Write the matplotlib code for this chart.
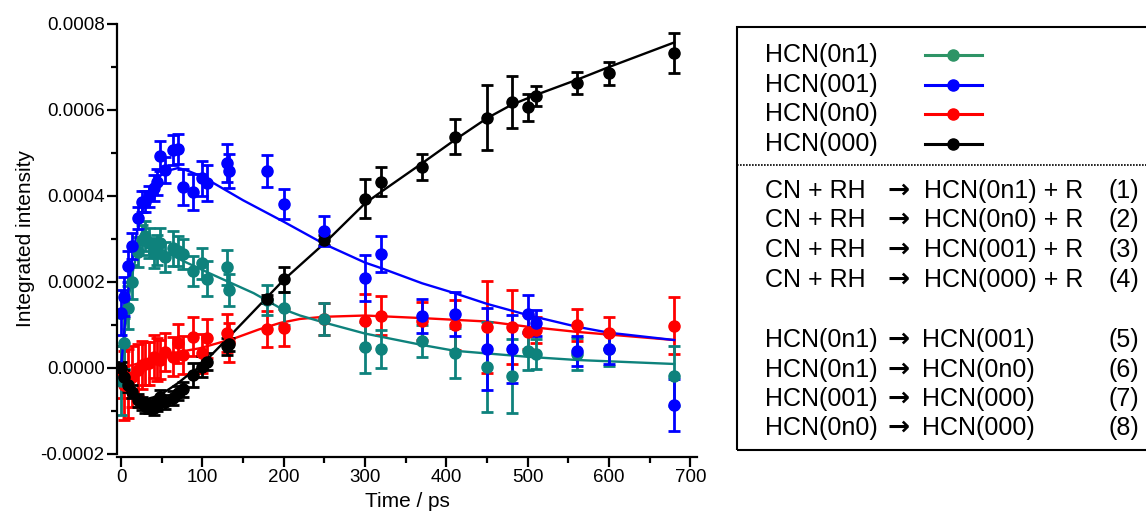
import matplotlib
matplotlib.use("Agg")
import matplotlib.pyplot as plt
from matplotlib import ticker
from matplotlib.lines import Line2D
from matplotlib.patches import Rectangle

plt.rcParams["font.family"] = ["Liberation Sans", "DejaVu Sans"]

# time points (ps)
t = [0, 4, 9, 14, 21, 26, 30, 34, 40, 44, 48, 54, 64, 70, 76, 88, 100, 106,
     130, 133, 180, 200, 250, 300, 320, 370, 410, 450, 480, 500, 510, 560, 600, 680]

# HCN(001) - blue
y_001 = [0.000129, 0.000166, 0.000236, 0.000283, 0.000349, 0.000387, 0.000387, 0.000399,
         0.000418, 0.000433, 0.000492, 0.000460, 0.000507, 0.000509, 0.000420, 0.000410,
         0.000441, 0.000430, 0.000477, 0.000458, 0.000458, 0.000381, 0.000319, 0.000209,
         0.000265, 0.000121, 0.000126, 0.0000435, 0.0000435, 0.000126, 0.000104, 0.000040,
         0.0000435, -0.000086]
e_001 = [5.3e-5, 4.5e-5, 3.5e-5, 3e-5, 2.5e-5, 2.5e-5, 2.5e-5, 2.5e-5,
         3e-5, 3e-5, 3.5e-5, 3e-5, 3.5e-5, 3.5e-5, 4.2e-5, 4.2e-5,
         4e-5, 4.2e-5, 4.5e-5, 4e-5, 3.7e-5, 3.5e-5, 3.5e-5, 5.3e-5,
         4.2e-5, 4e-5, 5.1e-5, 9.5e-5, 7.9e-5, 4.4e-5, 3e-5, 3.5e-5,
         3.5e-5, 6e-5]

# HCN(0n1) - teal
y_0n1 = [-0.000030, 0.000057, 0.000140, 0.000200, 0.000270, 0.000298, 0.000307, 0.000290,
         0.000267, 0.000275, 0.000290, 0.000259, 0.000278, 0.000271, 0.000265, 0.000226,
         0.000243, 0.000208, 0.000234, 0.000181, 0.000158, 0.000139, 0.000113, 0.000048,
         0.000044, 0.0000635, 0.000034, 0.000003, -0.0000186, 0.000040, 0.0000326, 0.0000326,
         0.0000435, -0.0000186]
e_0n1 = [8e-5, 6e-5, 5e-5, 4e-5, 3.5e-5, 3.5e-5, 3.5e-5, 3.5e-5,
         3.5e-5, 3.5e-5, 3.5e-5, 3.5e-5, 4e-5, 3.5e-5, 3.5e-5, 3.5e-5,
         3.5e-5, 4e-5, 4e-5, 3.8e-5, 3.5e-5, 3.8e-5, 3.7e-5, 6e-5,
         4.4e-5, 3.7e-5, 5.8e-5, 1.05e-4, 8.6e-5, 4.4e-5, 3.5e-5, 3.7e-5,
         4e-5, 7e-5]

# HCN(0n0) - red
y_0n0 = [-0.000010, -0.000040, -0.000036, -0.000020, -0.000005, 0.000007, 0.000010, 0.000011,
         0.000026, 0.000020, 0.000019, 0.000037, 0.000026, 0.000057, 0.000030, 0.000073,
         0.000034, 0.000069, 0.000081, 0.000060, 0.000090, 0.000094, 0.000113, 0.000110,
         0.000122, 0.000110, 0.000100, 0.000096, 0.000096, 0.000084, 0.000088, 0.000100,
         0.000082, 0.0000984]
e_0n0 = [6e-5, 8e-5, 8e-5, 7e-5, 6e-5, 5.5e-5, 5e-5, 5e-5,
         5e-5, 5e-5, 4.5e-5, 4.5e-5, 4.5e-5, 4.5e-5, 4.5e-5, 4.5e-5,
         4.5e-5, 4.5e-5, 4.5e-5, 4.5e-5, 4.2e-5, 4.2e-5, 3.7e-5, 6.3e-5,
         4.6e-5, 4.4e-5, 5.8e-5, 1.07e-4, 8.6e-5, 4e-5, 3e-5, 3.7e-5,
         3.7e-5, 6.7e-5]

# HCN(000) - black
y_000 = [0.0, -0.000020, -0.000040, -0.000055, -0.000075, -0.000082, -0.000089, -0.000090,
         -0.000094, -0.000085, -0.000067, -0.000079, -0.000070, -0.000059, -0.000050, -0.000016,
         0.000003, 0.000015, 0.000050, 0.000055, 0.000160, 0.000206, 0.000298, 0.000394,
         0.000433, 0.000468, 0.000538, 0.000582, 0.000618, 0.000606, 0.000633, 0.000662,
         0.000685, 0.000732]
e_000 = [1.5e-5, 1.5e-5, 1.5e-5, 1.5e-5, 1.5e-5, 1.5e-5, 1.5e-5, 1.5e-5,
         1.6e-5, 1.6e-5, 1.6e-5, 1.6e-5, 1.6e-5, 1.6e-5, 1.8e-5, 2.8e-5,
         2.5e-5, 2e-5, 2e-5, 1.5e-5, 1e-5, 2.9e-5, 1.2e-5, 4.5e-5,
         3.4e-5, 3e-5, 4.1e-5, 7.5e-5, 6e-5, 3.2e-5, 2.3e-5, 2.6e-5,
         2.6e-5, 4.7e-5]

# fitted curves
fit_t_001 = [0, 5, 10, 15, 20, 25, 30, 40, 50, 60, 70, 80, 100, 150, 200, 250, 300,
             320, 370, 410, 450, 500, 560, 600, 680]
fit_001 = [0.0, 0.00011, 0.00020, 0.00027, 0.00032, 0.00036, 0.00039, 0.00043, 0.00045,
           0.00046, 0.000465, 0.00046, 0.000445, 0.00039, 0.00034, 0.000288, 0.000245,
           0.000232, 0.000197, 0.000174, 0.000149, 0.000123, 0.000096, 0.000082, 0.000065]

fit_t_0n1 = [0, 5, 10, 15, 20, 27, 35, 50, 75, 109, 163, 196, 220, 249, 300, 370, 410,
             500, 560, 680]
fit_0n1 = [0.0, 0.00009, 0.00017, 0.00023, 0.00027, 0.00030, 0.00029, 0.000275, 0.00025,
           0.00022, 0.000174, 0.000139, 0.000122, 0.000106, 0.00008, 0.0000535, 0.00004,
           0.000026, 0.0000186, 0.0000093]

fit_t_0n0 = [0, 20, 50, 97, 138, 170, 196, 220, 249, 300, 370, 450, 500, 560, 680]
fit_0n0 = [0.0, 0.00001, 0.00003, 0.000046, 0.000068, 0.00009, 0.000105, 0.000114,
           0.000119, 0.000122, 0.000116, 0.000108, 0.000096, 0.000084, 0.000065]

fit_t_000 = [0, 5, 10, 20, 30, 40, 50, 60, 70, 80, 97, 130, 160, 200, 250, 300, 320,
             370, 410, 450, 480, 510, 560, 600, 680]
fit_000 = [0.0, -0.000035, -0.000055, -0.00007, -0.000073, -0.000068, -0.00006, -0.000048,
           -0.000035, -0.00002, 0.000003, 0.000067, 0.000126, 0.000205, 0.000290, 0.000383,
           0.00041, 0.000476, 0.00053, 0.000581, 0.000612, 0.000635, 0.00067, 0.0007, 0.000757]

teal = "#0e827c"
series = [
    (y_0n0, e_0n0, fit_t_0n0, fit_0n0, "#ff0000"),
    (y_0n1, e_0n1, fit_t_0n1, fit_0n1, teal),
    (y_000, e_000, fit_t_000, fit_000, "#000000"),
    (y_001, e_001, fit_t_001, fit_001, "#0000ff"),
]

fig = plt.figure(figsize=(11.46, 5.22), dpi=100)
ax = fig.add_axes([0.1021, 0.1303, 0.5061, 0.8238])

for y, e, ft, fy, c in series:
    ax.errorbar(t, y, yerr=e, fmt="o", color=c, ms=8, elinewidth=2,
                capsize=4, capthick=2)
    ax.plot(ft, fy, color=c, lw=1.7)

ax.set_xlim(-5, 708)
ax.set_ylim(-0.0002, 0.0008)
ax.xaxis.set_major_locator(ticker.MultipleLocator(100))
ax.xaxis.set_minor_locator(ticker.MultipleLocator(50))
ax.yaxis.set_major_locator(ticker.MultipleLocator(0.0002))
ax.yaxis.set_minor_locator(ticker.MultipleLocator(0.0001))
ax.yaxis.set_major_formatter(ticker.FuncFormatter(lambda v, p: f"{v:.4f}"))
ax.tick_params(which="major", length=7, width=1.6, labelsize=13.5, pad=2)
ax.tick_params(which="minor", length=4, width=1.6)
for s in ["top", "right"]:
    ax.spines[s].set_visible(False)
for s in ["left", "bottom"]:
    ax.spines[s].set_linewidth(1.6)
ax.spines["bottom"].set_position(("outward", 2))
ax.set_xlabel("Time / ps", fontsize=15, labelpad=4)
ax.set_ylabel("Integrated intensity", fontsize=15, labelpad=4)

# legend / reaction box
W, H = 1146.0, 522.0


def fx(px):
    return px / W


def fy(py):
    return 1 - py / H


fig.add_artist(Rectangle((fx(737), fy(450)), fx(1160) - fx(737), fy(27) - fy(450),
                         transform=fig.transFigure, fill=False, lw=1.5, ec="black"))
fig.add_artist(Line2D([fx(737), fx(1146)], [fy(165), fy(165)], transform=fig.transFigure,
                      color="black", lw=1.2, ls=(0, (1, 0.8))))

fs = 18
leg_names = ["HCN(0n1)", "HCN(001)", "HCN(0n0)", "HCN(000)"]
leg_colors = ["#2e9466", "#0000ff", "#ff0000", "#000000"]
leg_rows = [55, 85, 114, 144]
for name, c, py in zip(leg_names, leg_colors, leg_rows):
    fig.text(fx(765), fy(py), name, fontsize=fs, va="center", ha="left")
    fig.add_artist(Line2D([fx(925), fx(982)], [fy(py), fy(py)], transform=fig.transFigure,
                          color=c, lw=2.2))
    fig.add_artist(Line2D([fx(953)], [fy(py)], transform=fig.transFigure, color=c,
                          marker="o", ms=8, lw=0))

reactants = ["CN + RH"] * 4 + ["HCN(0n1)", "HCN(0n1)", "HCN(001)", "HCN(0n0)"]
products = ["HCN(0n1) + R", "HCN(0n0) + R", "HCN(001) + R", "HCN(000) + R",
            "HCN(001)", "HCN(0n0)", "HCN(000)", "HCN(000)"]
numbers = ["(1)", "(2)", "(3)", "(4)", "(5)", "(6)", "(7)", "(8)"]
rows = [191, 220, 250, 280, 340, 370, 399, 428]
for i, (r, p, n, py) in enumerate(zip(reactants, products, numbers, rows)):
    fig.text(fx(765), fy(py), r, fontsize=fs, va="center", ha="left")
    fig.text(fx(899), fy(py), "\u2192", fontsize=fs + 1, va="center", ha="center",
             family="DejaVu Sans", fontweight="bold")
    fig.text(fx(924 if i < 4 else 922), fy(py), p, fontsize=fs, va="center", ha="left")
    fig.text(fx(1109), fy(py), n, fontsize=fs, va="center", ha="left")

fig.savefig("out.png", dpi=100)
